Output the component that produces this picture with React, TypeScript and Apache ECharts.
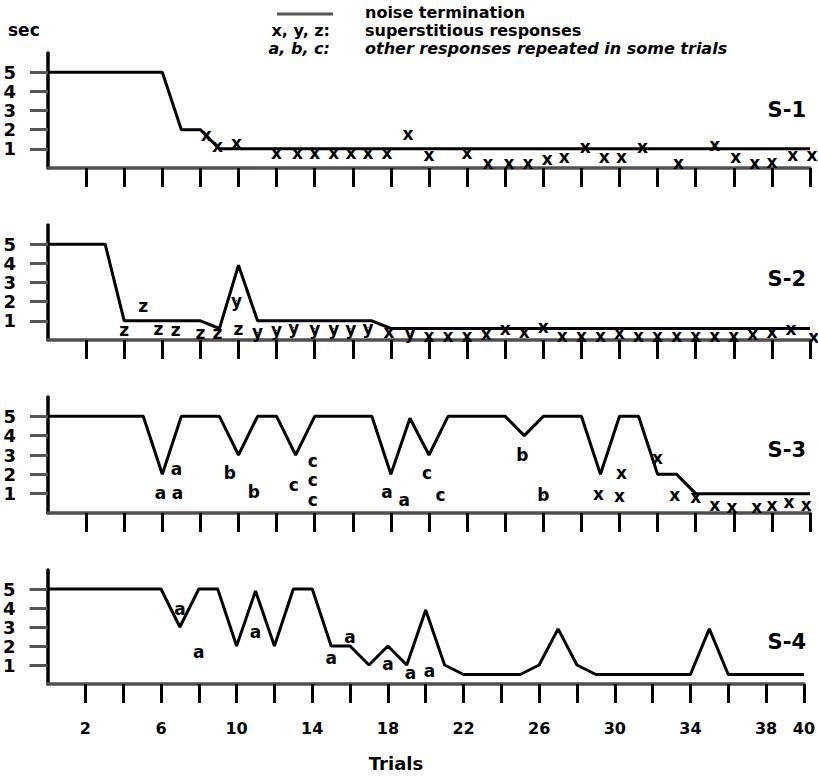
import React, { useEffect, useRef } from "react";
import * as echarts from "echarts";

// Trial index 0..40 (0 = start of session, line drawn from the axis)
const trials: number[] = Array.from({ length: 41 }, (_, i) => i);

// Noise termination time (sec) per trial, subjects S-1 .. S-4
const noiseS1 = [5, 5, 5, 5, 5, 5, 5, 2, 2, 1, 1, 1, 1, 1, 1, 1, 1, 1, 1, 1, 1, 1, 1, 1, 1, 1, 1, 1, 1, 1, 1, 1, 1, 1, 1, 1, 1, 1, 1, 1, 1];
const noiseS2 = [5, 5, 5, 5, 1, 1, 1, 1, 1, 0.6, 3.9, 1, 1, 1, 1, 1, 1, 1, 0.6, 0.6, 0.6, 0.6, 0.6, 0.6, 0.6, 0.6, 0.6, 0.6, 0.6, 0.6, 0.6, 0.6, 0.6, 0.6, 0.6, 0.6, 0.6, 0.6, 0.6, 0.6, 0.6];
const noiseS3 = [5, 5, 5, 5, 5, 5, 2, 5, 5, 5, 3, 5, 5, 3, 5, 5, 5, 5, 2, 4.9, 3, 5, 5, 5, 5, 4, 5, 5, 5, 2, 5, 5, 2, 2, 1, 1, 1, 1, 1, 1, 1];
const noiseS4 = [5, 5, 5, 5, 5, 5, 5, 3, 5, 5, 2, 4.9, 2, 5, 5, 2, 2, 1, 2, 1, 3.9, 1, 0.5, 0.5, 0.5, 0.5, 1, 2.9, 1, 0.5, 0.5, 0.5, 0.5, 0.5, 0.5, 2.9, 0.5, 0.5, 0.5, 0.5, 0.5];

// Responses: [trial, sec, letter]
const respS1: [number, number, string][] = [
  [8.3, 1.7, "x"], [8.9, 1.15, "x"], [9.9, 1.3, "x"], [12, 0.8, "x"], [13.1, 0.8, "x"], [14, 0.8, "x"],
  [15, 0.8, "x"], [15.9, 0.8, "x"], [16.8, 0.8, "x"], [17.8, 0.8, "x"], [18.9, 1.75, "x"],
  [20, 0.68, "x"], [22, 0.8, "x"], [23.1, 0.26, "x"], [24.2, 0.26, "x"], [25.2, 0.26, "x"], [26.2, 0.47, "x"],
  [27.1, 0.58, "x"], [28.2, 1.1, "x"], [29.2, 0.58, "x"], [30.1, 0.58, "x"], [31.2, 1.1, "x"], [33.1, 0.26, "x"],
  [35, 1.2, "x"], [36.1, 0.58, "x"], [37.1, 0.26, "x"], [38, 0.32, "x"], [39.1, 0.68, "x"], [40.1, 0.68, "x"],
];
const respS2: [number, number, string][] = [
  [5, 1.8, "z"], [4, 0.5, "z"], [5.8, 0.6, "z"], [6.7, 0.5, "z"], [8, 0.35, "z"], [8.9, 0.35, "z"],
  [9.9, 2.05, "y"], [10, 0.55, "z"], [11, 0.4, "y"], [12, 0.5, "y"], [12.9, 0.65, "y"], [14, 0.6, "y"],
  [15, 0.6, "y"], [15.9, 0.6, "y"], [16.8, 0.65, "y"], [17.9, 0.4, "x"], [19, 0.35, "y"],
  [20, 0.2, "x"], [21, 0.2, "x"], [22, 0.2, "x"], [23, 0.3, "x"], [24, 0.6, "x"], [25, 0.4, "x"], [26, 0.7, "x"],
  [27, 0.2, "x"], [28, 0.2, "x"], [29, 0.2, "x"], [30, 0.35, "x"], [31, 0.2, "x"], [32, 0.2, "x"], [33, 0.2, "x"],
  [34, 0.2, "x"], [35, 0.2, "x"], [36, 0.2, "x"], [37, 0.3, "x"], [38, 0.4, "x"], [39, 0.6, "x"], [40.2, 0.15, "x"],
];
const respS3: [number, number, string][] = [
  [6.75, 2.3, "a"], [5.9, 1.03, "a"], [6.8, 1.03, "a"], [9.55, 2.06, "b"], [10.8, 1.08, "b"], [12.9, 1.44, "c"],
  [13.9, 2.7, "c"], [13.9, 1.7, "c"], [13.9, 0.67, "c"], [17.8, 1.08, "a"], [18.7, 0.67, "a"], [19.9, 2.06, "c"],
  [20.6, 0.93, "c"], [24.9, 3.0, "b"], [26, 0.93, "b"], [28.9, 0.98, "x"], [30.1, 2.06, "x"], [30, 0.88, "x"],
  [32, 2.84, "x"], [32.9, 0.93, "x"], [34, 0.83, "x"], [35, 0.41, "x"], [35.9, 0.31, "x"], [37.2, 0.31, "x"],
  [38, 0.41, "x"], [38.9, 0.57, "x"], [39.8, 0.41, "x"],
];
const respS4: [number, number, string][] = [
  [7, 3.95, "a"], [8, 1.68, "a"], [11, 2.74, "a"], [15, 1.37, "a"], [16, 2.47, "a"], [18, 1.05, "a"],
  [19.2, 0.6, "a"], [20.2, 0.68, "a"],
];

const subjects = ["S-1", "S-2", "S-3", "S-4"];
const yTickValues = [1, 2, 3, 4, 5];
const xTickValues = [2, 4, 6, 8, 10, 12, 14, 16, 18, 20, 22, 24, 26, 28, 30, 32, 34, 36, 38, 40];
const xLabelValues = [2, 6, 10, 14, 18, 22, 26, 30, 34, 38, 40];
const legendTexts = ["noise termination", "superstitious responses", "other responses repeated in some trials"];
const legendKeys = ["x, y, z:", "a, b, c:"];

const FONT = "'DejaVu Sans', 'Liberation Sans', Arial, sans-serif";

export default function App() {
  const ref = useRef<HTMLDivElement>(null);
  useEffect(() => {
    if (!ref.current) return;
    const chart = echarts.init(ref.current, null, { renderer: "svg" });
    const noise = [noiseS1, noiseS2, noiseS3, noiseS4];
    const resp = [respS1, respS2, respS3, respS4];
    const grids = [
      { left: 48, top: 53, width: 762, height: 115 },
      { left: 48, top: 225, width: 762, height: 115 },
      { left: 48, top: 397, width: 762, height: 116 },
      { left: 44, top: 570, width: 762, height: 114 },
    ];
    const xAxes = grids.map((_, i) => ({
      type: "value",
      gridIndex: i,
      min: 0,
      max: 40,
      interval: 2,
      axisLine: { show: true, onZero: false, lineStyle: { color: "#505050", width: 3.5 } },
      axisTick: { show: true, customValues: xTickValues, length: 19, lineStyle: { color: "#000", width: 3 } },
      axisLabel: {
        show: i === 3,
        customValues: xLabelValues,
        formatter: (v: number) => (xLabelValues.includes(v) ? String(v) : ""),
        margin: 36,
        fontSize: 16,
        fontWeight: "bold",
        fontFamily: FONT,
        color: "#000",
      },
      splitLine: { show: false },
    }));
    const yAxes = grids.map((_, i) => ({
      type: "value",
      gridIndex: i,
      min: 0,
      max: 6,
      interval: 1,
      axisLine: { show: true, onZero: false, lineStyle: { color: "#000", width: 3.5 } },
      axisTick: { show: true, customValues: yTickValues, length: 18, lineStyle: { color: "#555", width: 3 } },
      axisLabel: {
        show: true,
        customValues: yTickValues,
        formatter: (v: number) => (v >= 1 && v <= 5 ? String(v) : ""),
        margin: 32,
        fontSize: 18,
        fontWeight: "bold",
        fontFamily: FONT,
        color: "#000",
      },
      splitLine: { show: false },
    }));
    const series: any[] = [];
    noise.forEach((arr, i) => {
      series.push({
        type: "line",
        name: "noise termination",
        xAxisIndex: i,
        yAxisIndex: i,
        data: trials.map((t, k) => [t, arr[k]]),
        symbol: "none",
        lineStyle: { color: "#000", width: 3 },
        z: 3,
      });
    });
    resp.forEach((arr, i) => {
      series.push({
        type: "scatter",
        xAxisIndex: i,
        yAxisIndex: i,
        clip: false,
        symbolSize: 1,
        itemStyle: { color: "#000", opacity: 1 },
        data: arr.map((r) => ({ value: [r[0], r[1]], letter: r[2] })),
        label: {
          show: true,
          position: "inside",
          formatter: (p: any) => p.data.letter,
          fontSize: 17,
          fontWeight: "bold",
          fontFamily: FONT,
          color: "#000",
          textBorderWidth: 0,
          textBorderColor: "transparent",
        },
        emphasis: { disabled: true },
        z: 4,
      });
    });
    const titleY = [110, 279, 450, 642];
    const txt = (extra: any) => ({ fontWeight: "bold", fontFamily: FONT, fill: "#000", ...extra });
    const graphic: any[] = [
      { type: "text", x: 8, y: 30, style: txt({ text: "sec", fontSize: 17, verticalAlign: "middle" }) },
      { type: "line", shape: { x1: 277, y1: 14, x2: 333, y2: 14 }, style: { stroke: "#555", lineWidth: 3 } },
      { type: "text", x: 365, y: 12, style: txt({ text: legendTexts[0], fontSize: 16, verticalAlign: "middle" }) },
      { type: "text", x: 330, y: 30, style: txt({ text: legendKeys[0], fontSize: 16, align: "right", verticalAlign: "middle" }) },
      { type: "text", x: 365, y: 30, style: txt({ text: legendTexts[1], fontSize: 16, verticalAlign: "middle" }) },
      { type: "text", x: 330, y: 48, style: txt({ text: legendKeys[1], fontSize: 16, fontStyle: "italic", align: "right", verticalAlign: "middle" }) },
      { type: "text", x: 365, y: 48, style: txt({ text: legendTexts[2], fontSize: 16, fontStyle: "italic", verticalAlign: "middle" }) },
      { type: "text", x: 396, y: 763, style: txt({ text: "Trials", fontSize: 18, align: "center", verticalAlign: "middle" }) },
      ...subjects.map((s, i) => ({
        type: "text",
        x: 806,
        y: titleY[i],
        style: txt({ text: s, fontSize: 21, align: "right", verticalAlign: "middle" }),
      })),
    ];
    chart.setOption({
      animation: false,
      backgroundColor: "#fff",
      grid: grids,
      xAxis: xAxes,
      yAxis: yAxes,
      series,
      graphic,
    });
    return () => chart.dispose();
  }, []);
  return <div ref={ref} style={{ position: "absolute", left: 0, top: 0, width: 818, height: 777 }} />;
}
